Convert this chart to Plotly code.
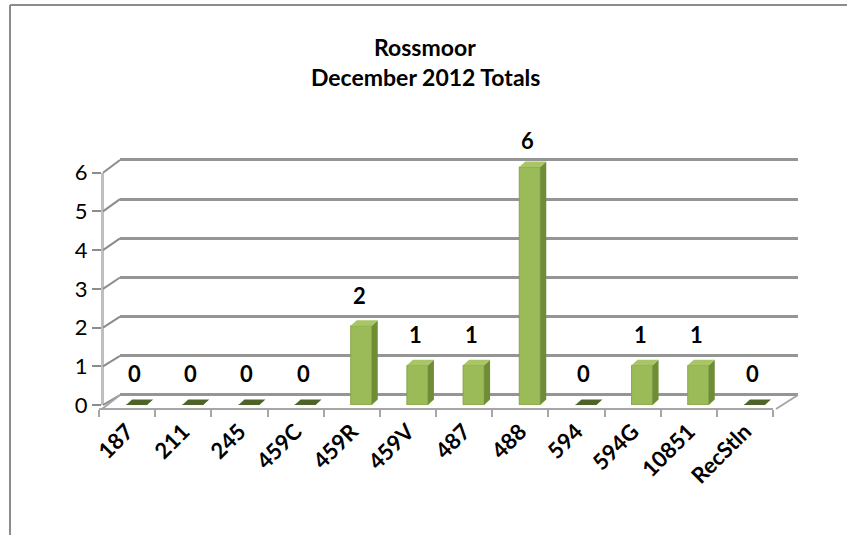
import plotly.graph_objects as go

categories = ['187', '211', '245', '459C', '459R', '459V', '487', '488', '594', '594G', '10851', 'RecStln']
values = [0, 0, 0, 0, 2, 1, 1, 6, 0, 1, 1, 0]
y_ticks = [0, 1, 2, 3, 4, 5, 6]
title_lines = ['Rossmoor', 'December 2012 Totals']

W, H = 847, 535
FONT = 'Lato'


def fx(px):
    return px / W


def fy(py):
    return 1 - py / H


# geometry (pixels)
FRONT_X0, FRONT_X1 = 99, 773          # front floor edge
FRONT_Y0, FRONT_UNIT = 405, 38.72     # front value axis
BACK_X0, BACK_X1 = 120, 798           # back wall
BACK_Y0, BACK_UNIT = 395, 39.17
BAR_SHIFT = 9.5
BAR_Y0, BAR_UNIT = 405, 39.67
YMAX = 6
PAD = 0.3

n = len(categories)
cat_w = (FRONT_X1 - FRONT_X0) / n


def front_y(v):
    return FRONT_Y0 - FRONT_UNIT * v


def back_y(v):
    return BACK_Y0 - BACK_UNIT * v


fig = go.Figure()

fig.add_trace(go.Scatter(x=[0, 1], y=[0, 0], mode='markers', marker=dict(opacity=0),
                         xaxis='x2', yaxis='y2', hoverinfo='skip', showlegend=False))

fig.add_trace(go.Scatter(x=categories, y=[None] * n, mode='markers', xaxis='x', yaxis='y',
                         hoverinfo='skip', showlegend=False))

bar_w = 21 / cat_w
dx = 6 / cat_w
dy_top = 5.5 / BAR_UNIT
xs = list(range(n))
fig.add_trace(go.Bar(x=xs, y=values, width=bar_w, xaxis='x3', yaxis='y3',
                     marker=dict(color='#9bbb59', line=dict(color='#86a548', width=1)),
                     showlegend=False, hoverinfo='skip'))

for i, v in enumerate(values):
    x0 = i - bar_w / 2
    x1 = i + bar_w / 2
    if v > 0:
        fig.add_trace(go.Scatter(x=[x1, x1 + dx, x1 + dx, x1, x1], y=[0, dy_top, v + dy_top, v, 0],
                                 fill='toself', fillcolor='#6f8d36', line=dict(width=0, color='#6f8d36'),
                                 mode='lines', xaxis='x3', yaxis='y3', hoverinfo='skip', showlegend=False))
        top_col = '#a9c667'
    else:
        top_col = '#4f6228'
    fig.add_trace(go.Scatter(x=[x0, x1, x1 + dx, x0 + dx, x0], y=[v, v, v + dy_top, v + dy_top, v],
                             fill='toself', fillcolor=top_col, line=dict(width=0, color=top_col),
                             mode='lines', xaxis='x3', yaxis='y3', hoverinfo='skip', showlegend=False))

shapes = []
for t in y_ticks:
    shapes.append(dict(type='line', xref='paper', yref='paper',
                       x0=fx(103), y0=fy(front_y(t)), x1=fx(BACK_X0), y1=fy(back_y(t)),
                       line=dict(color='#8c8c8c', width=2)))
shapes.append(dict(type='line', xref='paper', yref='paper',
                   x0=fx(FRONT_X0 + 3), y0=fy(409), x1=fx(BACK_X0), y1=fy(back_y(0)),
                   line=dict(color='#a6a6a6', width=2)))
shapes.append(dict(type='line', xref='paper', yref='paper',
                   x0=fx(FRONT_X1 + 3), y0=fy(409), x1=fx(BACK_X1), y1=fy(back_y(0)),
                   line=dict(color='#a6a6a6', width=2)))
shapes.append(dict(type='line', xref='paper', yref='paper', x0=fx(10), y0=fy(5), x1=fx(W + 30), y1=fy(5),
                   line=dict(color='#8c8c8c', width=2)))
shapes.append(dict(type='line', xref='paper', yref='paper', x0=fx(10), y0=fy(5), x1=fx(10), y1=fy(H + 30),
                   line=dict(color='#8c8c8c', width=2)))

annotations = []
for i, line in enumerate(title_lines):
    annotations.append(dict(text='<b>%s</b>' % line, xref='paper', yref='paper',
                            x=fx(425), y=fy(47 + 30 * i), xanchor='center', yanchor='middle',
                            showarrow=False, font=dict(family=FONT, size=23, color='#000000')))
for i, v in enumerate(values):
    annotations.append(dict(text='<b>%d</b>' % v, xref='x3', yref='y', x=i, y=v,
                            xshift=-2, yshift=32, xanchor='center', yanchor='middle',
                            showarrow=False, font=dict(family=FONT, size=22, color='#000000')))

fig.update_layout(
    width=W, height=H,
    margin=dict(l=0, r=0, t=0, b=0),
    paper_bgcolor='white', plot_bgcolor='rgba(0,0,0,0)',
    showlegend=False,
    shapes=shapes,
    annotations=annotations,
    xaxis=dict(domain=[fx(FRONT_X0), fx(FRONT_X1)], type='category', categoryarray=categories,
               categoryorder='array', range=[-0.5, n - 0.5], tickson='boundaries',
               ticks='outside', ticklen=7, tickwidth=2, tickcolor='#a6a6a6',
               showline=True, linecolor='#a6a6a6', linewidth=2, showgrid=False, zeroline=False,
               anchor='free', position=fy(409), tickangle=-45,
               tickvals=categories, ticktext=['<b>%s</b>' % c for c in categories],
               tickfont=dict(family=FONT, size=22, color='#000000'), automargin=False),
    yaxis=dict(domain=[fy(front_y(0)), fy(front_y(YMAX))], range=[0, YMAX], tickvals=y_ticks,
               ticks='outside', ticklen=9, tickwidth=2, tickcolor='#8c8c8c',
               showline=True, linecolor='#bfbfbf', linewidth=3, showgrid=False, zeroline=False,
               anchor='free', position=fx(102),
               tickfont=dict(family=FONT, size=22, color='#000000'), automargin=False),
    xaxis2=dict(domain=[fx(BACK_X0), fx(BACK_X1)], range=[0, 1], visible=False, anchor='y2'),
    yaxis2=dict(domain=[fy(back_y(-PAD)), fy(back_y(YMAX + PAD))], range=[-PAD, YMAX + PAD],
                tickvals=y_ticks, showticklabels=False, ticks='', showgrid=True,
                gridcolor='#959595', gridwidth=2.5, zeroline=False, showline=False, anchor='x2'),
    xaxis3=dict(domain=[fx(FRONT_X0 + BAR_SHIFT), fx(FRONT_X1 + BAR_SHIFT)], range=[-0.5, n - 0.5],
                visible=False, anchor='y3'),
    yaxis3=dict(domain=[fy(BAR_Y0), fy(BAR_Y0 - 6.3 * BAR_UNIT)], range=[0, 6.3],
                visible=False, anchor='x3'),
)

fig.write_html('out.html')
